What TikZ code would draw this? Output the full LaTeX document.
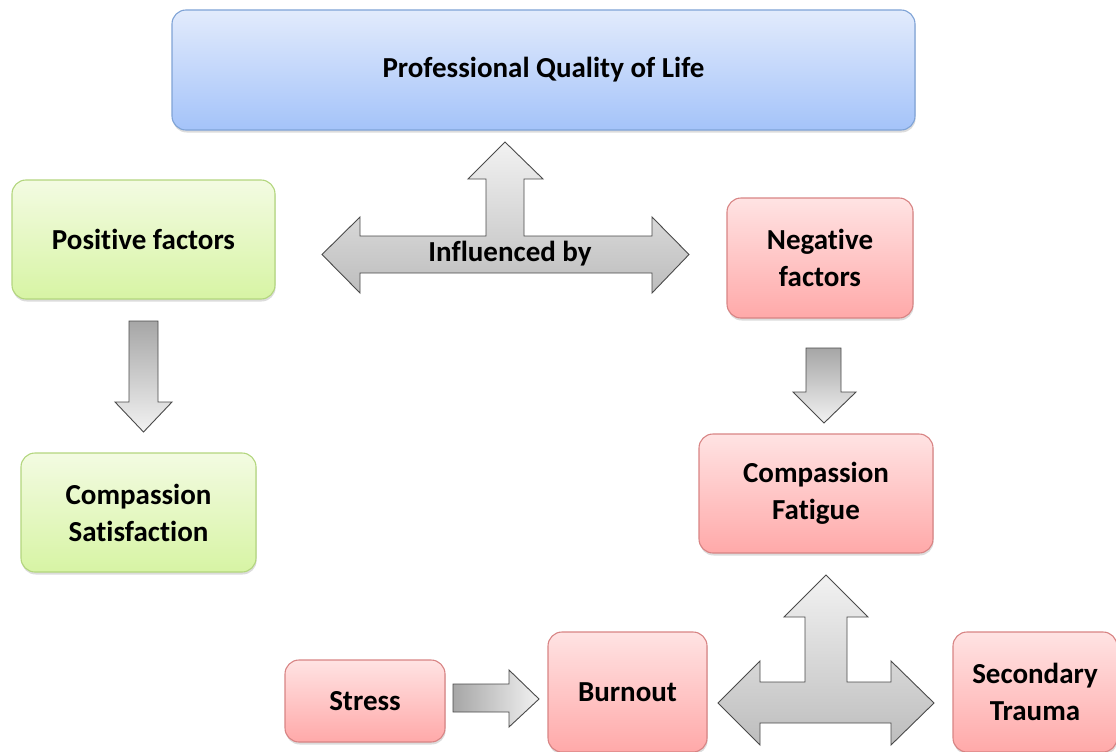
\documentclass[tikz,border=0pt]{standalone}
\usepackage{fontspec}
\setmainfont[Ligatures=NoCommon]{Carlito}
\usetikzlibrary{shadows}

\definecolor{bluetop}{HTML}{E2EBFC}
\definecolor{bluebot}{HTML}{A4C3F9}
\definecolor{blueedge}{HTML}{7FA3D6}
\definecolor{greentop}{HTML}{F3FBE2}
\definecolor{greenbot}{HTML}{D7F4A4}
\definecolor{greenedge}{HTML}{B3D67E}
\definecolor{redtop}{HTML}{FFE3E3}
\definecolor{redbot}{HTML}{FFA9A9}
\definecolor{rededge}{HTML}{D88484}
\definecolor{arrowedge}{HTML}{4A4A4A}
\definecolor{arrowdark}{HTML}{A6A6A6}
\definecolor{arrowlight}{HTML}{F2F2F2}
\definecolor{arrowmid}{HTML}{BDBDBD}

\tikzset{
  box/.style={rounded corners=14pt, draw, line width=1.1pt, align=center,
    inner sep=0pt, font=\bfseries\fontsize{29}{37}\selectfont,
    drop shadow={shadow xshift=0.6pt, shadow yshift=-2.5pt, opacity=0.28}},
  bluebox/.style={box, draw=blueedge, top color=bluetop, bottom color=bluebot},
  greenbox/.style={box, draw=greenedge, top color=greentop, bottom color=greenbot},
  redbox/.style={box, draw=rededge, top color=redtop, bottom color=redbot},
  blockarrow/.style={draw=arrowedge, line width=0.9pt, line join=miter},
  downarrow/.style={blockarrow, top color=arrowdark, bottom color=arrowlight},
  rightarrow/.style={blockarrow, left color=arrowdark, right color=arrowlight},
  triarrow/.style={blockarrow, top color=arrowlight, bottom color=arrowmid},
  arrowlabel/.style={font=\bfseries\fontsize{29}{34}\selectfont, inner sep=0pt}
}

\begin{document}
\begin{tikzpicture}[x=1pt, y=-1pt]
\useasboundingbox (0,0) rectangle (1116,752);
\clip (0,0) rectangle (1116,752);

% boxes
\node[bluebox, minimum width=743pt, minimum height=120pt] (pql) at (543.5,70) {\raisebox{-2pt}{Professional Quality of Life}};
\node[greenbox, minimum width=263pt, minimum height=119pt] (pos) at (143.5,239.5) {Positive factors};
\node[greenbox, minimum width=235pt, minimum height=119pt] (cs) at (138.5,512.5) {Compassion\\Satisfaction};
\node[redbox, minimum width=186pt, minimum height=120pt] (neg) at (820,258) {Negative\\factors};
\node[redbox, minimum width=234pt, minimum height=119pt] (cf) at (816,493.5) {Compassion\\Fatigue};
\node[redbox, minimum width=160pt, minimum height=82pt] (stress) at (365,701) {Stress};
\node[redbox, minimum width=159pt, minimum height=120pt] (burn) at (627.5,692) {Burnout};
\node[redbox, minimum width=164pt, minimum height=120pt] (st) at (1035,692) {Secondary\\Trauma};

% three-headed arrow below the title
\path[triarrow] (322,254.5) -- (360,217) -- (360,236) -- (486,236) -- (486,179)
  -- (468,179) -- (505,142) -- (543,179) -- (524,179) -- (524,236) -- (652,236)
  -- (652,217) -- (689,254.5) -- (652,293) -- (652,273) -- (360,273) -- (360,293) -- cycle;
\node[arrowlabel] (infl) at (510,254) {Influenced by};

% down arrows
\path[downarrow] (129,321) -- (158,321) -- (158,402) -- (172,402) -- (143.5,432)
  -- (115,402) -- (129,402) -- cycle;
\path[downarrow] (806,348) -- (841,348) -- (841,392) -- (856,392) -- (824,423)
  -- (793,392) -- (806,392) -- cycle;

% stress to burnout
\path[rightarrow] (453,684) -- (509,684) -- (509,670) -- (539,699) -- (509,727)
  -- (509,712) -- (453,712) -- cycle;

% three-headed arrow between burnout and secondary trauma
\path[triarrow] (718,703) -- (760,661) -- (760,682) -- (805,682) -- (805,617)
  -- (784,617) -- (826,575) -- (868,617) -- (847,617) -- (847,682) -- (891,682)
  -- (891,661) -- (934,703) -- (891,745) -- (891,723) -- (760,723) -- (760,745) -- cycle;
\end{tikzpicture}
\end{document}
